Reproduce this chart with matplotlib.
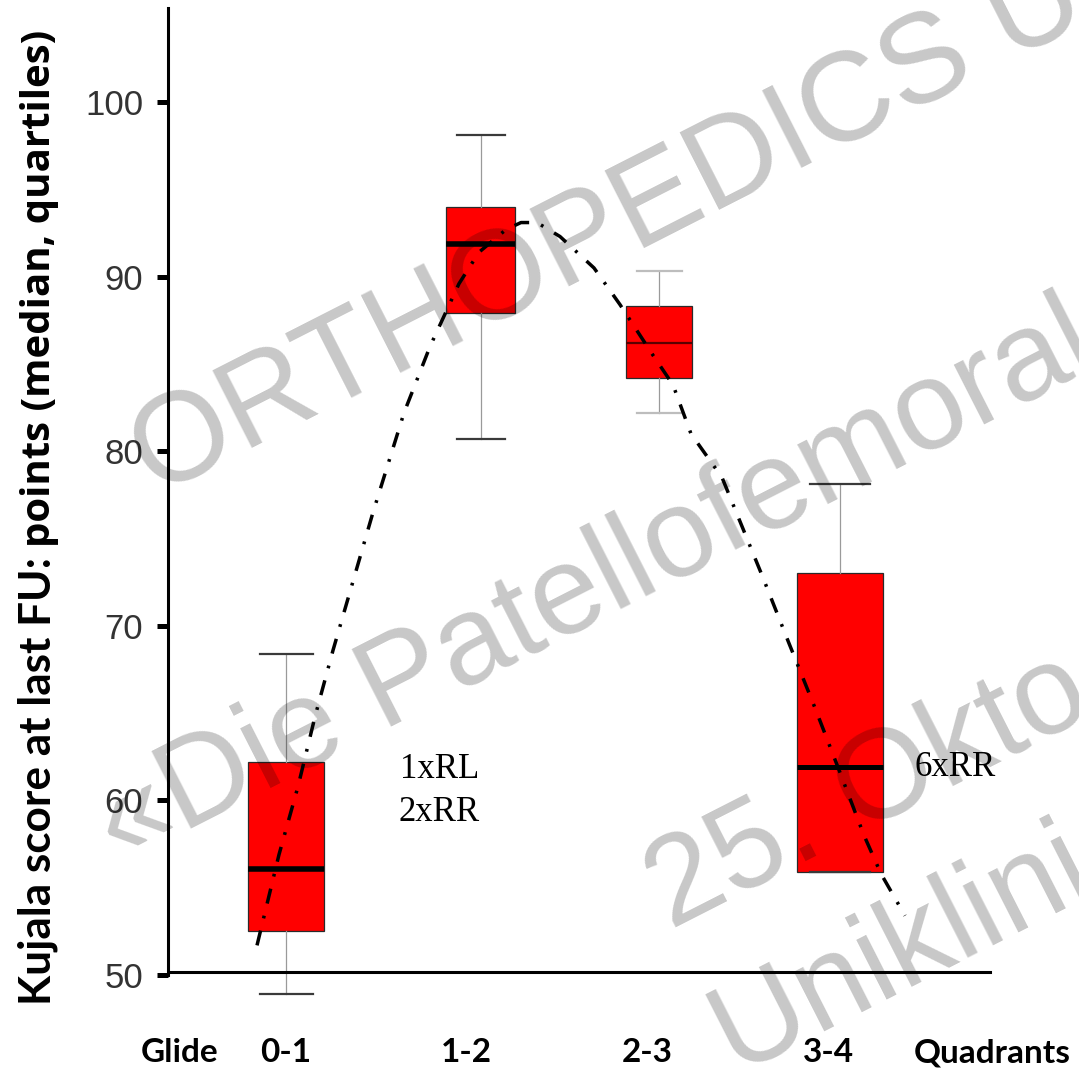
import matplotlib
matplotlib.use('Agg')
import matplotlib.pyplot as plt

# ---------------- data ----------------
groups = ['0-1', '1-2', '2-3', '3-4']
medians = [56.1, 91.9, 86.2, 61.9]
q1 = [52.5, 87.9, 84.2, 55.9]
q3 = [62.2, 94.0, 88.3, 73.0]
whisker_low = [48.9, 80.7, 82.2, 55.9]
whisker_high = [68.4, 98.1, 90.3, 78.1]
yticks = [50, 60, 70, 80, 90, 100]
curve_x = [0.89, 1.11, 1.30, 1.47, 1.65, 2.05, 2.36, 2.62, 2.91, 3.11, 3.38, 3.53,
           3.69, 3.92, 4.26, 4.52, 4.85, 5.05, 5.23, 5.54, 5.94, 6.21, 6.47, 6.72,
           6.96, 7.13, 7.37]
curve_y = [51.7, 56.9, 60.8, 64.8, 68.6, 76.5, 82.2, 86.0, 89.6, 91.4, 92.7, 93.1,
           93.1, 92.3, 90.5, 88.4, 85.5, 83.8, 81.0, 78.5, 72.9, 69.0, 65.3, 61.6,
           58.0, 55.8, 53.4]
note_left = ['1xRL', '2xRR']
note_right = '6xRR'
x_start_label = 'Glide'
x_end_label = 'Quadrants'
ylabel_main = 'Kujala score at last FU:'
ylabel_sub = 'points (median, quartiles)'
watermark = ['ORTHOPEDICS U', '\u00abDie Patellofemoral', '25. Okto', 'Uniklini']

# ---------------- layout ----------------
W, H = 1079, 1068
fig = plt.figure(figsize=(W / 100, H / 100), dpi=100)
plt.rcParams['lines.scale_dashes'] = False
ax = fig.add_axes([168 / W, 0.0625, 911 / W, 0.9302])
ax.set_xlim(0, 9.11)
ax.set_ylim(48.5, 105.4)

box_pos = [1.18, 3.125, 4.91, 6.72]
box_w = [0.76, 0.69, 0.66, 0.86]
label_pos = [1.18, 2.98, 4.79, 6.60]
cap_w = [0.53, 0.48, 0.45, 0.60]
cap_col = ['#3a3a3a', '#3a3a3a', '#bdbdbd', '#3a3a3a']
med_lw = [4.0, 4.0, 1.6, 3.6]
med_col = ['black', 'black', '#5a0000', 'black']

for i in range(len(groups)):
    stats = [dict(med=medians[i], q1=q1[i], q3=q3[i],
                  whislo=whisker_low[i], whishi=whisker_high[i], label=groups[i])]
    ax.bxp(stats, positions=[box_pos[i]], widths=[box_w[i]], patch_artist=True,
           showfliers=False, capwidths=[cap_w[i]],
           boxprops=dict(facecolor='#ff0000', edgecolor='#2a2a2a', linewidth=0.9),
           medianprops=dict(color=med_col[i], linewidth=med_lw[i], solid_capstyle='butt'),
           whiskerprops=dict(color='#9a9a9a', linewidth=0.9),
           capprops=dict(color=cap_col[i], linewidth=1.6),
           manage_ticks=False)

# fitted trend curve (dash-dot)
ax.plot(curve_x, curve_y, color='black', linewidth=2.5,
        dashes=[11, 9, 2.0, 9], dash_capstyle='butt', zorder=5)

# axes styling
for s in ['top', 'right', 'bottom']:
    ax.spines[s].set_visible(False)
ax.spines['left'].set_linewidth(2.2)
ax.spines['left'].set_bounds(50, 105.4)
ax.axhline(50.2, xmin=0, xmax=(990 - 168) / 911, color='black', linewidth=2.2)
ax.set_yticks(yticks)
ax.tick_params(axis='y', length=8, width=3.6, pad=10, labelsize=25,
               labelcolor='#333333', direction='out')
for lab in ax.get_yticklabels():
    lab.set_fontfamily('Liberation Sans')
ax.set_xticks([])

# category labels below axis
lab_y = 45.0
for x, g in zip(label_pos, groups):
    ax.text(x, lab_y, g, ha='center', va='baseline', fontsize=24,
            fontweight='bold', family='Lato', clip_on=False)
ax.text(0.12, lab_y, x_start_label, ha='center', va='baseline', fontsize=24,
        fontweight='bold', family='Lato', clip_on=False)
ax.text(8.24, lab_y, x_end_label, ha='center', va='baseline', fontsize=24,
        fontweight='bold', family='Lato', clip_on=False)

# notes
ax.text(2.32, 61.3, note_left[0], ha='left', va='baseline', fontsize=25,
        family='Liberation Serif')
ax.text(2.30, 58.8, note_left[1], ha='left', va='baseline', fontsize=25,
        family='Liberation Serif')
ax.text(7.47, 61.4, note_right, ha='left', va='baseline', fontsize=25,
        family='Liberation Serif')

# y label (two sizes), fitted to the reference lengths
fig.canvas.draw()
r = fig.canvas.get_renderer()
t1 = fig.text(50 / W, 1 - 1005 / H, ylabel_main, rotation=90, rotation_mode='anchor',
              ha='left', va='baseline', fontsize=29, fontweight='bold', family='Lato')
h1 = t1.get_window_extent(r).height
t1.set_fontsize(29 * 448 / h1)
t2 = fig.text(50 / W, 1 - 547 / H, ylabel_sub, rotation=90, rotation_mode='anchor',
              ha='left', va='baseline', fontsize=25, fontweight='bold',
              family='Open Sans')
h2 = t2.get_window_extent(r).height
t2.set_fontsize(25 * 519 / h2)

# watermark
wm_pos = [(156, 497), (120, 865), (671, 930), (735, 1072)]
for (px, py), txt in zip(wm_pos, watermark):
    fig.text(px / W, 1 - py / H, txt, rotation=27, rotation_mode='anchor',
             ha='left', va='baseline', fontsize=91, family='Liberation Sans',
             color='black', alpha=0.22, zorder=10)

fig.savefig('out.png', dpi=100)
